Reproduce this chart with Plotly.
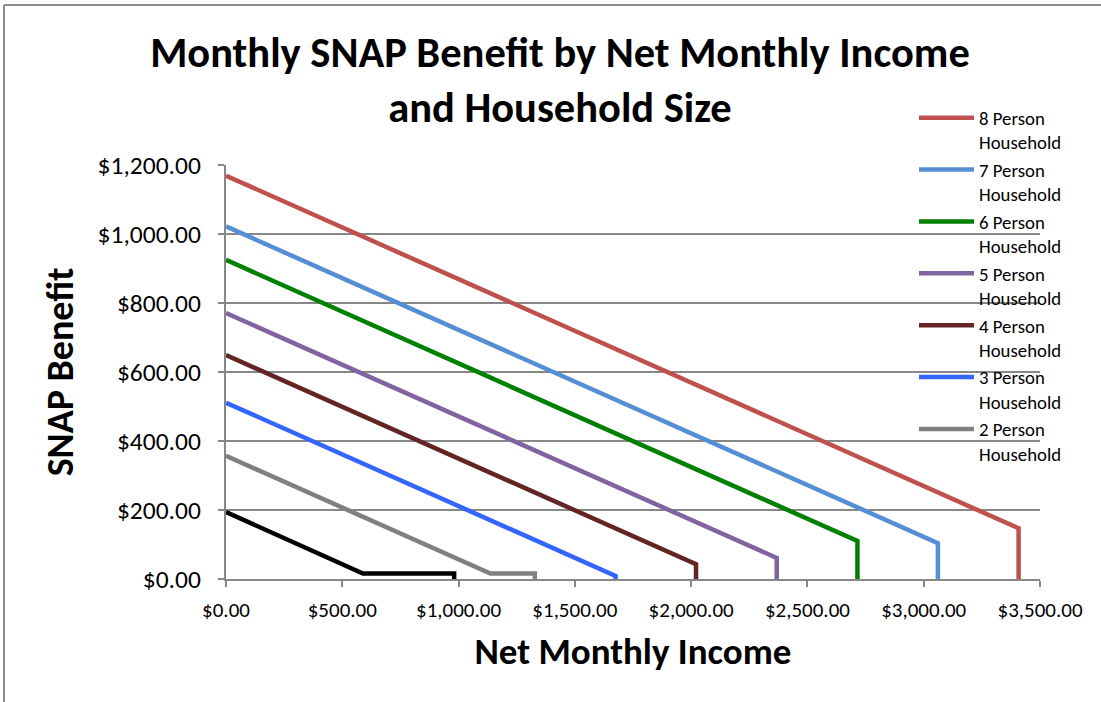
import plotly.graph_objects as go

# Net monthly income (x) and monthly SNAP benefit (y) break points per household size
hh_names = ["8 Person<br>Household", "7 Person<br>Household", "6 Person<br>Household",
            "5 Person<br>Household", "4 Person<br>Household", "3 Person<br>Household",
            "2 Person<br>Household", "1 Person<br>Household"]
hh_colors = ["#C0504D", "#558ED5", "#008000", "#8064A2", "#632523", "#3366FF", "#808080", "#000000"]

income_8 = [0, 3408, 3408]
benefit_8 = [1169, 147, 0]
income_7 = [0, 3061, 3061]
benefit_7 = [1022, 104, 0]
income_6 = [0, 2715, 2715]
benefit_6 = [925, 110, 0]
income_5 = [0, 2368, 2368]
benefit_5 = [771, 61, 0]
income_4 = [0, 2021, 2021]
benefit_4 = [649, 43, 0]
income_3 = [0, 1675, 1675]
benefit_3 = [511, 9, 0]
income_2 = [0, 1137, 1328, 1328]
benefit_2 = [357, 16, 16, 0]
income_1 = [0, 589, 981, 981]
benefit_1 = [194, 16, 16, 0]

incomes = [income_8, income_7, income_6, income_5, income_4, income_3, income_2, income_1]
benefits = [benefit_8, benefit_7, benefit_6, benefit_5, benefit_4, benefit_3, benefit_2, benefit_1]

x_ticks = [0, 500, 1000, 1500, 2000, 2500, 3000, 3500]
x_tick_labels = ["$0.00", "$500.00", "$1,000.00", "$1,500.00", "$2,000.00",
                 "$2,500.00", "$3,000.00", "$3,500.00"]
y_ticks = [0, 200, 400, 600, 800, 1000, 1200]
y_tick_labels = ["$0.00", "$200.00", "$400.00", "$600.00", "$800.00",
                 "$1,000.00", "$1,200.00"]

FONT = "Carlito, Calibri, Lato, sans-serif"
GRID = "#878787"

W, H = 1101, 702
L, R, T, B = 226, 61, 165, 123
pw, ph = W - L - R, H - T - B


def px_x(p):
    return (p - L) / pw


def px_y(p):
    return (H - B - p) / ph


fig = go.Figure()
for name, color, xs, ys in zip(hh_names, hh_colors, incomes, benefits):
    fig.add_trace(go.Scatter(
        x=xs, y=ys, mode="lines", name=name,
        line=dict(color=color, width=4.5),
        showlegend=not name.startswith("1 "),
        hoverinfo="skip",
    ))

# white panel behind the legend hides the gridlines there
fig.add_shape(type="rect", xref="paper", yref="paper", layer="between",
              x0=px_x(880), x1=px_x(1046), y0=px_y(463), y1=px_y(100),
              fillcolor="white", line=dict(width=0))
# chart frame (top and left edges)
fig.add_shape(type="line", xref="paper", yref="paper",
              x0=px_x(4), x1=px_x(1110), y0=px_y(5), y1=px_y(5),
              line=dict(color="#8c8c8c", width=2))
fig.add_shape(type="line", xref="paper", yref="paper",
              x0=px_x(4), x1=px_x(4), y0=px_y(5), y1=px_y(710),
              line=dict(color="#8c8c8c", width=2))

fig.update_layout(
    width=W, height=H,
    margin=dict(l=L, r=R, t=T, b=B),
    paper_bgcolor="white", plot_bgcolor="white",
    font=dict(family=FONT, color="black"),
    title=dict(
        text="<b>Monthly SNAP Benefit by Net Monthly Income<br>and Household Size</b>",
        x=560 / W, xanchor="center", y=1 - 67 / H, yanchor="middle",
        font=dict(family=FONT, size=42.5, color="black"),
    ),
    legend=dict(
        x=px_x(914), xanchor="left", y=px_y(99), yanchor="top",
        font=dict(family=FONT, size=18.8, color="black"),
        bgcolor="rgba(0,0,0,0)", itemwidth=55, valign="top",
        tracegroupgap=0, maxheight=640,
    ),
    xaxis=dict(
        range=[0, 3500], tickvals=x_ticks, ticktext=x_tick_labels,
        tickfont=dict(family=FONT, size=21, color="black"),
        showgrid=False, zeroline=False,
        showline=True, linecolor=GRID, linewidth=2,
        ticks="outside", ticklen=6, tickcolor=GRID, tickwidth=2,
        ticklabelstandoff=5,
        title=dict(text="<b>Net Monthly Income</b>",
                   font=dict(family=FONT, size=37, color="black"), standoff=16),
    ),
    yaxis=dict(
        range=[0, 1200], tickvals=y_ticks, ticktext=y_tick_labels,
        tickfont=dict(family=FONT, size=25.5, color="black"),
        showgrid=True, gridcolor=GRID, gridwidth=2, zeroline=False,
        showline=True, linecolor=GRID, linewidth=2,
        ticks="outside", ticklen=6, tickcolor=GRID, tickwidth=2,
        ticklabelstandoff=12,
        title=dict(text="<b>SNAP Benefit</b>",
                   font=dict(family=FONT, size=38, color="black"), standoff=12),
    ),
)

fig.write_html("out.html")
